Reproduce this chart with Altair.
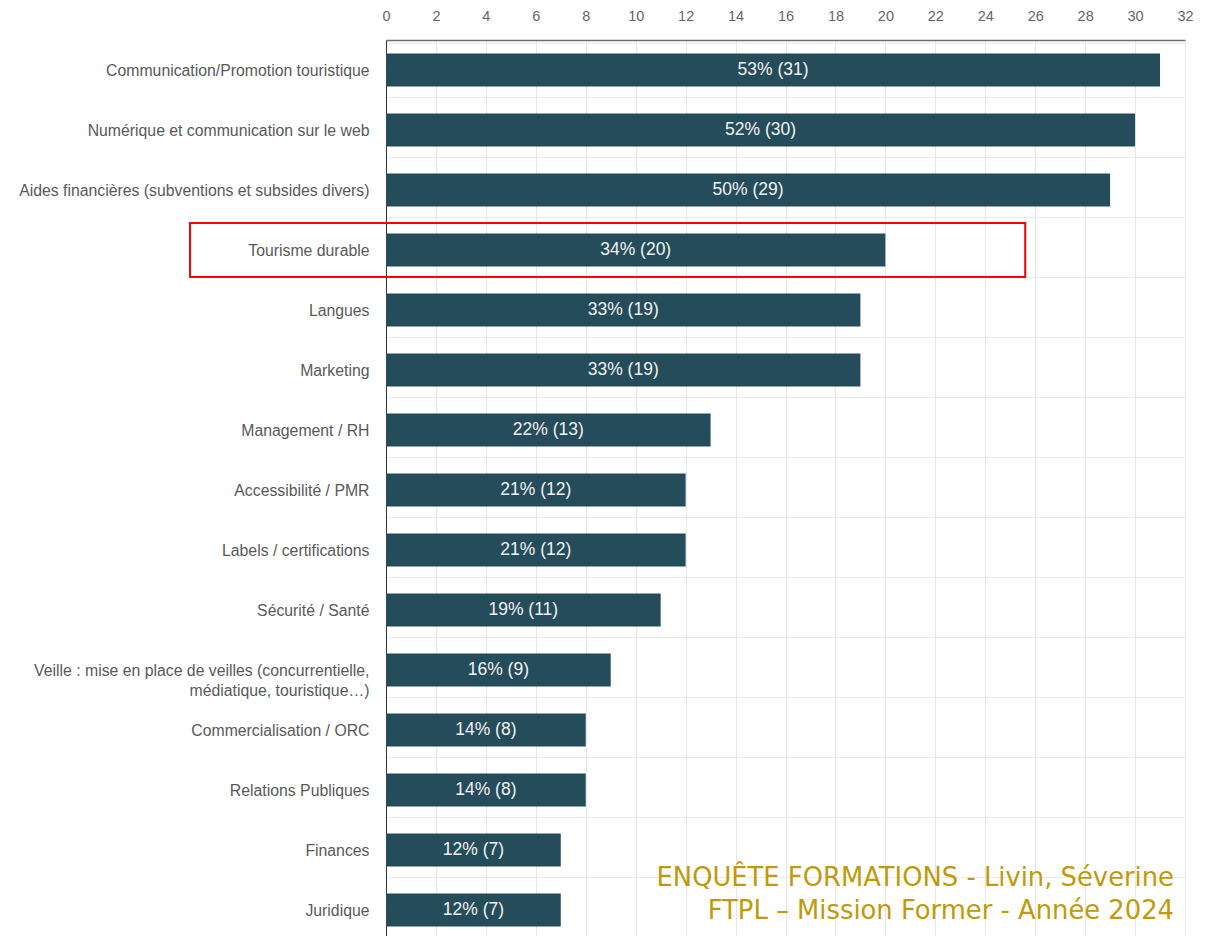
import altair as alt
import pandas as pd

categories = [
    "Communication/Promotion touristique",
    "Numérique et communication sur le web",
    "Aides financières (subventions et subsides divers)",
    "Tourisme durable",
    "Langues",
    "Marketing",
    "Management / RH",
    "Accessibilité / PMR",
    "Labels / certifications",
    "Sécurité / Santé",
    "Veille : mise en place de veilles (concurrentielle,|médiatique, touristique…)",
    "Commercialisation / ORC",
    "Relations Publiques",
    "Finances",
    "Juridique",
]
counts = [31, 30, 29, 20, 19, 19, 13, 12, 12, 11, 9, 8, 8, 7, 7]
percents = [53, 52, 50, 34, 33, 33, 22, 21, 21, 19, 16, 14, 14, 12, 12]
x_ticks = list(range(0, 33, 2))
highlight = ["Tourisme durable"]
highlight_start = [-7.85]
highlight_end = [25.6]
footer_line1 = ["ENQUÊTE FORMATIONS - Livin, Séverine"]
footer_line2 = ["FTPL – Mission Former - Année 2024"]

df = pd.DataFrame({
    "cat": categories,
    "count": counts,
    "label": [f"{p}% ({c})" for p, c in zip(percents, counts)],
})
df["mid"] = df["count"] / 2

W, H = 799, 900

xscale = alt.Scale(domain=[0, 32], nice=False)
yscale = alt.Scale(domain=categories)

base = alt.Chart(df)

bars = base.mark_bar(color="#244c5a", size=33).encode(
    x=alt.X("count:Q", scale=xscale,
            axis=alt.Axis(orient="top", values=x_ticks, ticks=False, labelPadding=17,
                          labelFontSize=14.5, labelColor="#666666",
                          labelFont="Liberation Sans", labelFlush=False,
                          domainColor="#6e6e6e", domainWidth=1.5,
                          gridColor="#e6e6e6", title=None)),
    y=alt.Y("cat:N", scale=yscale, sort=None,
            axis=alt.Axis(ticks=False, labelPadding=17, labelFontSize=15.8,
                          labelColor="#595959", labelFont="Liberation Sans",
                          labelLimit=400, labelLineHeight=20,
                          labelExpr="split(datum.label, '|')",
                          domainColor="#333333", domainWidth=1,
                          grid=True, tickBand="extent", gridColor="#ebebeb",
                          title=None)),
)

texts = base.mark_text(color="#f2f2f2", fontSize=17.5, font="Liberation Sans").encode(
    x=alt.X("mid:Q", scale=xscale),
    y=alt.Y("cat:N", scale=yscale, sort=None),
    text="label:N",
)

hl = alt.Chart(pd.DataFrame({"cat": highlight, "start": highlight_start,
                             "end": highlight_end})).mark_rect(
    filled=False, stroke="#ff0000", strokeWidth=2
).encode(
    x=alt.X("start:Q", scale=xscale),
    x2=alt.X2("end:Q"),
    y=alt.Y("cat:N", scale=yscale, sort=None),
)

def footer(lines, ypix):
    return alt.Chart(pd.DataFrame({"t": lines})).mark_text(
        align="right", baseline="alphabetic", fontSize=25.8, font="DejaVu Sans",
        color="#c09a0a"
    ).encode(x=alt.value(788), y=alt.value(ypix), text="t:N")

chart = alt.layer(bars, texts, hl, footer(footer_line1, 846), footer(footer_line2, 879)).properties(
    width=W, height=H,
    autosize=alt.AutoSizeParams(type="none"),
    padding={"left": 386, "top": 40, "right": 24, "bottom": 0},
).configure_view(stroke=None)

chart.save("out.html", embed_options={"renderer": "svg", "actions": False})
